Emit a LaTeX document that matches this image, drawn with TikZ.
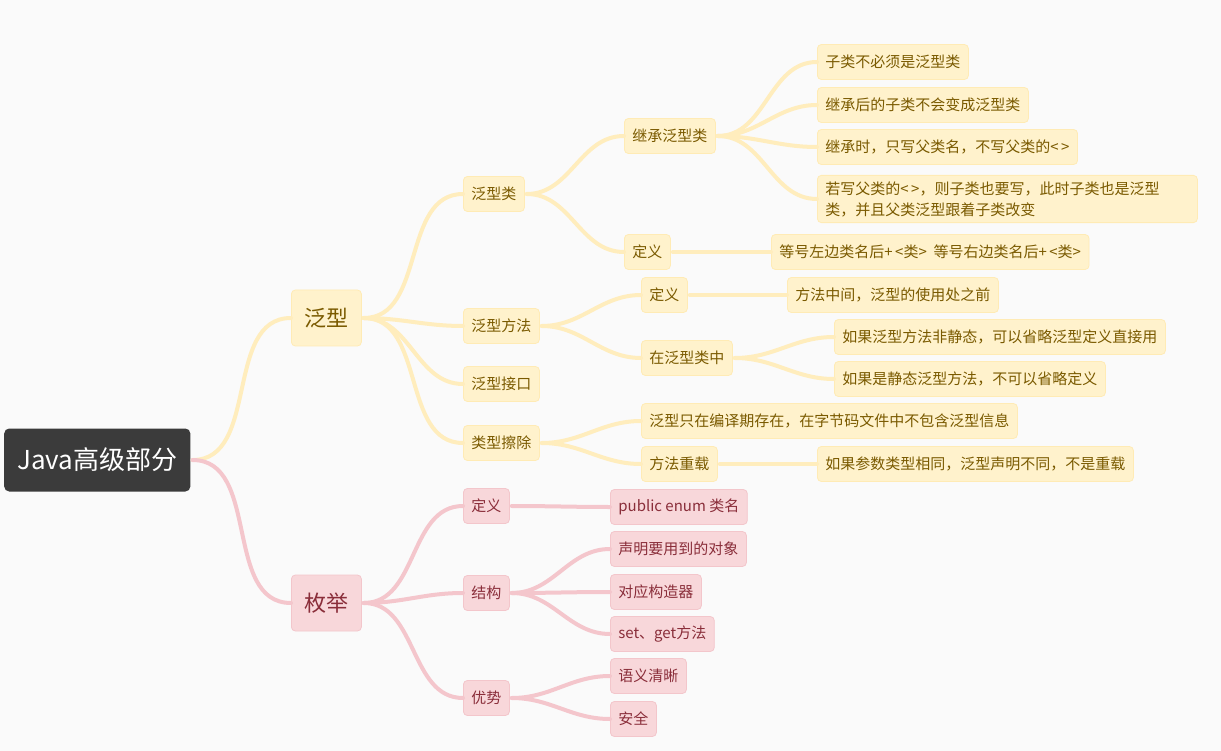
\documentclass[tikz,border=0pt]{standalone}
\usepackage{fontspec}
\setmainfont{Noto Sans CJK SC}
\usetikzlibrary{positioning}

\definecolor{bgcol}{HTML}{FAFAFA}
\definecolor{rootcol}{HTML}{3B3B3B}
\definecolor{yfill}{HTML}{FFF2CC}
\definecolor{ydraw}{HTML}{FFEBB5}
\definecolor{ytext}{HTML}{7A5A00}
\definecolor{yline}{HTML}{FFEDBD}
\definecolor{pfill}{HTML}{F8D7DA}
\definecolor{pdraw}{HTML}{F3C6CB}
\definecolor{ptext}{HTML}{8A2E3A}
\definecolor{pline}{HTML}{F4C6CC}

\begin{document}
\begin{tikzpicture}[
  x=1pt, y=-1pt,
  box/.style={anchor=west, rounded corners=4, line width=0.8pt,
    minimum height=35, inner xsep=8, inner ysep=4,
    font=\fontsize{15}{21}\selectfont},
  ybox/.style={box, fill=yfill, draw=ydraw, text=ytext},
  pbox/.style={box, fill=pfill, draw=pdraw, text=ptext},
  mainbox/.style={minimum height=56, inner xsep=13,
    font=\fontsize{22}{26}\selectfont},
  rootbox/.style={anchor=west, rounded corners=5, fill=rootcol, text=white,
    minimum height=63, inner xsep=13,
    font=\fontsize{26}{30}\selectfont},
  yconn/.style={draw=yline, line width=4, line cap=round},
  pconn/.style={draw=pline, line width=4, line cap=round},
  ]
  % background and page size
  \fill[bgcol] (0,0) rectangle (1221,751);
  \useasboundingbox (0,0) rectangle (1221,751);

  % root
  \node[rootbox] (root) at (4,460) {Java高级部分};

  % generics branch
  \node[ybox, mainbox] (fx) at (291,318) {泛型};
  \node[ybox] (fxl) at (463,194) {泛型类};
  \node[ybox] (fxff) at (463,326) {泛型方法};
  \node[ybox] (fxjk) at (463,384) {泛型接口};
  \node[ybox] (lxcc) at (463,443) {类型擦除};

  \node[ybox] (jc) at (624,136) {继承泛型类};
  \node[ybox] (dya) at (624,252) {定义};
  \node[ybox] (jca) at (817,62) {子类不必须是泛型类};
  \node[ybox] (jcb) at (817,105) {继承后的子类不会变成泛型类};
  \node[ybox] (jcc) at (817,147) {继承时，只写父类名，不写父类的<\,>};
  \node[ybox, align=left, text width=364, inner ysep=6] (jcd) at (817,199)
    {若写父类的<\,>，则子类也要写，此时子类也是泛型\\类，并且父类泛型跟着子类改变};
  \node[ybox] (dyaa) at (771,252) {等号左边类名后+\,<类>\ \ 等号右边类名后+\,<类>};

  \node[ybox] (dyb) at (641,295) {定义};
  \node[ybox] (dyba) at (787,295) {方法中间，泛型的使用处之前};
  \node[ybox] (zfx) at (641,358) {在泛型类中};
  \node[ybox] (zfxa) at (834,337) {如果泛型方法非静态，可以省略泛型定义直接用};
  \node[ybox] (zfxb) at (834,379) {如果是静态泛型方法，不可以省略定义};

  \node[ybox] (cca) at (641,421) {泛型只在编译期存在，在字节码文件中不包含泛型信息};
  \node[ybox] (cz) at (641,464) {方法重载};
  \node[ybox] (cza) at (817,464) {如果参数类型相同，泛型声明不同，不是重载};

  % enum branch
  \node[pbox, mainbox] (mj) at (291,603) {枚举};
  \node[pbox] (mjdy) at (463,506) {定义};
  \node[pbox] (mjjg) at (463,593) {结构};
  \node[pbox] (mjys) at (463,698) {优势};
  \node[pbox] (mjdya) at (610,507) {public enum 类名};
  \node[pbox] (jga) at (610,549) {声明要用到的对象};
  \node[pbox] (jgb) at (610,592) {对应构造器};
  \node[pbox] (jgc) at (610,634) {set、get方法};
  \node[pbox] (ysa) at (610,676) {语义清晰};
  \node[pbox] (ysb) at (610,719) {安全};

  % connectors
  \foreach \a/\b in {root/fx, fx/fxl, fx/fxff, fx/fxjk, fx/lxcc,
      fxl/jc, fxl/dya, jc/jca, jc/jcb, jc/jcc, jc/jcd, dya/dyaa,
      fxff/dyb, fxff/zfx, dyb/dyba, zfx/zfxa, zfx/zfxb,
      lxcc/cca, lxcc/cz, cz/cza} {
    \path[yconn] ([xshift=2]\a.east) to[out=0, in=180] (\b.west);
  }
  \foreach \a/\b in {root/mj, mj/mjdy, mj/mjjg, mj/mjys,
      mjdy/mjdya, mjjg/jga, mjjg/jgb, mjjg/jgc, mjys/ysa, mjys/ysb} {
    \path[pconn] ([xshift=2]\a.east) to[out=0, in=180] (\b.west);
  }
\end{tikzpicture}
\end{document}
